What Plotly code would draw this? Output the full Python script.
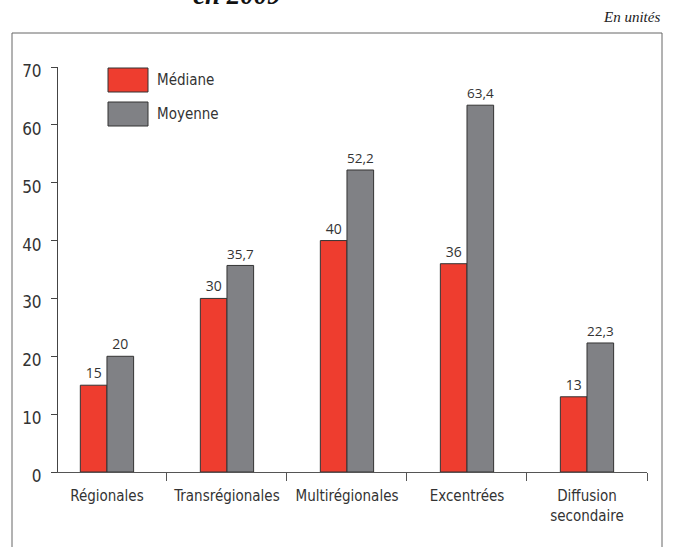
import plotly.graph_objects as go

categories = ['Régionales', 'Transrégionales', 'Multirégionales', 'Excentrées',
              'Diffusion<br>secondaire']
mediane = [15, 30, 40, 36, 13]
moyenne = [20, 35.7, 52.2, 63.4, 22.3]
y_ticks = [0, 10, 20, 30, 40, 50, 60, 70]


def fr(v):
    # format français : virgule décimale
    return f'{v:g}'.replace('.', ',')


RED = '#ee3d2f'
GRAY = '#808185'
OUTLINE = '#333333'
NARROW = 'Liberation Sans Narrow, DejaVu Sans Condensed, Roboto, Liberation Sans, sans-serif'

fig = go.Figure()

for name, vals, color in [('Médiane', mediane, RED), ('Moyenne', moyenne, GRAY)]:
    fig.add_trace(go.Bar(
        x=categories, y=vals, name=name,
        marker=dict(color=color, line=dict(color=OUTLINE, width=1)),
        text=[fr(v) for v in vals], textposition='outside',
        textfont=dict(family='Open Sans', size=14, color='#333333'),
        cliponaxis=False,
    ))

W, H = 674, 547
L, R, T, B = 58, 27, 67, 75
pw, ph = W - L - R, H - T - B

fig.update_layout(
    width=W, height=H,
    margin=dict(l=L, r=R, t=T, b=B),
    plot_bgcolor='white', paper_bgcolor='white',
    barmode='group', bargap=0.556, bargroupgap=0,
    showlegend=False,
    font=dict(family=NARROW, color='#333333'),
)

fig.update_xaxes(
    range=[-0.408, 4.5], showline=True, linecolor='#555555', linewidth=1,
    ticks='outside', tickson='boundaries', ticklen=8, tickcolor='#555555',
    tickfont=dict(family=NARROW, size=15, color='#333333'), tickangle=0,
    ticklabelstandoff=10, showgrid=False, zeroline=False,
)
fig.update_yaxes(
    range=[0, 70], tickvals=y_ticks, showline=True, linecolor='#444444',
    linewidth=1, ticks='outside', ticklen=6, tickcolor='#444444',
    tickfont=dict(family=NARROW, size=17, color='#333333'),
    ticklabelstandoff=6, ticklabelshift=4, showgrid=False, zeroline=False,
)


# cadre
def px_x(x):
    return (x - L) / pw


def px_y(y):
    return (H - B - y) / ph


fig.add_shape(type='rect', xref='paper', yref='paper',
              x0=px_x(12), x1=px_x(662), y0=px_y(565), y1=px_y(33),
              line=dict(color='#666666', width=1), fillcolor='rgba(0,0,0,0)')

# légende
for i, (name, color) in enumerate([('Médiane', RED), ('Moyenne', GRAY)]):
    top = 68 + i * 34
    fig.add_shape(type='rect', xref='paper', yref='paper',
                  x0=px_x(108), x1=px_x(148), y0=px_y(top + 24), y1=px_y(top),
                  line=dict(color=OUTLINE, width=1), fillcolor=color)
    fig.add_annotation(x=px_x(155), y=px_y(top + 12), xref='paper', yref='paper',
                       text=name, showarrow=False, xanchor='left', yanchor='middle',
                       font=dict(family=NARROW, size=15, color='#333333'))

fig.add_annotation(x=px_x(662), y=px_y(17), xref='paper', yref='paper',
                   text='<i>En unités</i>', showarrow=False, xanchor='right',
                   yanchor='middle',
                   font=dict(family='Liberation Serif', size=15, color='#222222'))
fig.add_annotation(x=px_x(237), y=px_y(12), xref='paper', yref='paper',
                   text='<b><i>en 2009</i></b>', showarrow=False, xanchor='center',
                   yanchor='bottom',
                   font=dict(family='Liberation Serif', size=27, color='#111111'))

fig.write_html('out.html', config={'displayModeBar': False},
               post_script="document.body.style.margin='0';")
